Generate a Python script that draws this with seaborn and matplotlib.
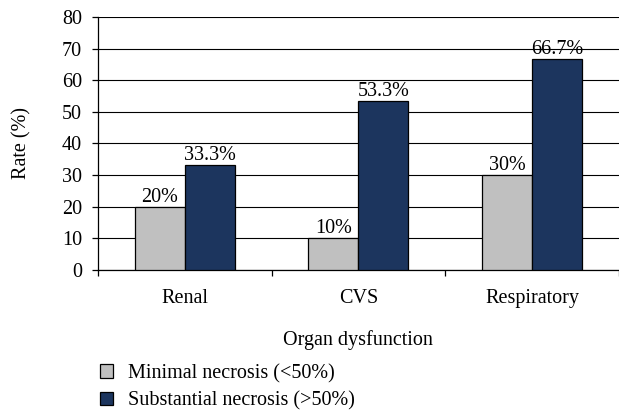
import pandas as pd
import matplotlib
matplotlib.use("Agg")
import matplotlib.pyplot as plt
import seaborn as sns

organs = ["Renal", "CVS", "Respiratory"]
groups = ["Minimal necrosis (<50%)", "Substantial necrosis (>50%)"]
minimal = [20, 10, 30]
substantial = [33.3, 53.3, 66.7]
minimal_labels = ["20%", "10%", "30%"]
substantial_labels = ["33.3%", "53.3%", "66.7%"]
colors = ["#C0C0C0", "#1C355E"]

df = pd.DataFrame({
    "organ": organs * 2,
    "group": [groups[0]] * 3 + [groups[1]] * 3,
    "rate": minimal + substantial,
})

sns.set_style("white")
plt.rcParams["font.family"] = ["Liberation Serif", "DejaVu Serif"]
plt.rcParams["text.color"] = "black"
plt.rcParams["axes.labelcolor"] = "black"
plt.rcParams["xtick.color"] = "black"
plt.rcParams["ytick.color"] = "black"

fs = 14.5

fig = plt.figure(figsize=(6.19, 4.12), dpi=100)
ax = fig.add_axes([0.158, 0.345, 0.842, 0.614])

sns.barplot(data=df, x="organ", y="rate", hue="group", order=organs,
            hue_order=groups, palette=colors, saturation=1, width=0.575,
            edgecolor="black", linewidth=0.9, ax=ax, legend=True, zorder=3)

for cont, labs in zip(ax.containers, [minimal_labels, substantial_labels]):
    ax.bar_label(cont, labels=labs, fontsize=fs, padding=0)

ax.set_ylim(0, 80)
ax.set_xlim(-0.5, 2.5)
ax.set_yticks(range(0, 81, 10))
ax.yaxis.grid(True, color="black", linewidth=0.8, zorder=0)
ax.set_axisbelow(True)
ax.tick_params(axis="y", labelsize=fs, length=4.3, width=0.9, direction="out", left=True, pad=7)
ax.tick_params(axis="x", which="major", labelsize=fs, length=0, pad=14)
ax.set_xticks([-0.5, 0.5, 1.5, 2.5], minor=True)
ax.tick_params(axis="x", which="minor", length=4.3, width=0.9, direction="out", bottom=True)

for s in ["top", "right"]:
    ax.spines[s].set_visible(False)
for s in ["left", "bottom"]:
    ax.spines[s].set_color("black")
    ax.spines[s].set_linewidth(0.9)

ax.set_xlabel("Organ dysfunction", fontsize=fs, labelpad=16)
ax.set_ylabel("Rate (%)", fontsize=fs, labelpad=22)

handles, labels = ax.get_legend_handles_labels()
ax.legend(handles, labels, loc="upper left", bbox_to_anchor=(0.161, 0.117),
          bbox_transform=fig.transFigure, frameon=False, fontsize=fs,
          handlelength=0.65, handleheight=0.65, handletextpad=0.75,
          labelspacing=0.42, borderpad=0, borderaxespad=0)

fig.savefig("out.png", dpi=100)
